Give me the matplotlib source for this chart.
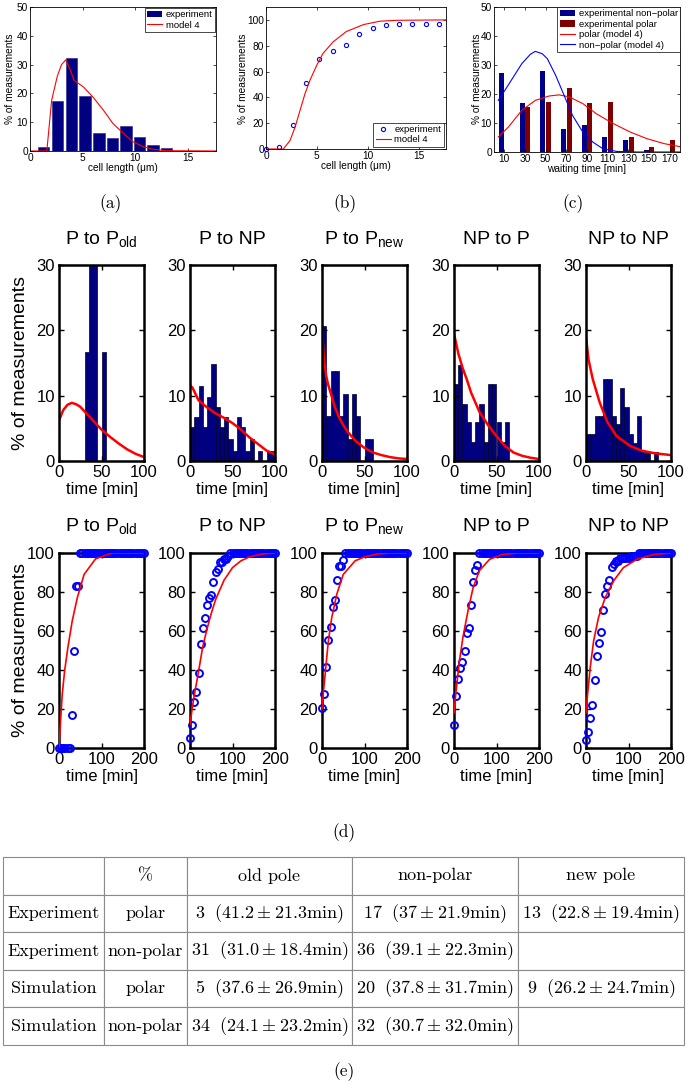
import matplotlib
matplotlib.use('Agg')
import matplotlib.pyplot as plt
from matplotlib.patches import Patch
from matplotlib.lines import Line2D

W, H = 688, 1090
plt.rcParams['font.family'] = ['Liberation Sans', 'DejaVu Sans']
plt.rcParams['mathtext.fontset'] = 'cm'
plt.rcParams['mathtext.rm'] = 'Liberation Sans'
plt.rcParams['mathtext.it'] = 'Liberation Sans:italic'
plt.rcParams['mathtext.bf'] = 'Liberation Sans:bold'
plt.rcParams['mathtext.sf'] = 'Liberation Sans'

# ---------------- data: (a) cell length histogram ----------------
len_centers = [1.3, 2.62, 3.94, 5.21, 6.54, 7.83, 9.11, 10.44, 11.71, 13.0]
len_hist = [1.3, 17.4, 32.3, 19.1, 6.1, 4.5, 8.6, 4.7, 2.1, 1.0]
len_model_x = [0, 1.6, 2.06, 2.6, 3.0, 3.4, 3.8, 4.2, 5.1, 6.0, 7.0, 7.9, 8.9, 9.8, 10.8, 11.7, 13.0, 17.7]
len_model_y = [0, 0, 17.6, 26, 30, 31.6, 28.5, 24.5, 22.2, 18.7, 14.1, 9.5, 6.1, 3.2, 1.5, 0.6, 0.1, 0]

# ---------------- data: (b) cumulative cell length ----------------
cum_len_x = [0, 1.31, 2.62, 3.94, 5.25, 6.56, 7.87, 9.19, 10.5, 11.8, 13.1, 14.4, 15.75, 17.06]
cum_len_y = [0, 1.3, 18.7, 51, 70, 76.3, 80.7, 89.3, 94, 96.4, 97.1, 97.1, 97.1, 97.1]
cum_model_x = [0, 1.7, 2.36, 2.86, 3.35, 3.84, 4.33, 5.0, 5.6, 6.6, 7.9, 9.6, 11.2, 12.9, 17.7]
cum_model_y = [0, 0, 6.5, 17, 30, 43, 53.4, 65, 74, 83, 91, 96.4, 99, 99.7, 100]

# ---------------- data: (c) waiting times ----------------
wait_groups = [10, 30, 50, 70, 90, 110, 130, 150, 170]
wait_nonpolar = [27.4, 16.9, 27.8, 8.0, 9.3, 5.2, 4.3, 0.7, 0]
wait_polar = [0, 15.6, 17.1, 22.0, 16.8, 17.2, 5.1, 1.7, 4.0]
polar_model_x = [4.1, 13.9, 27, 40, 53.2, 63, 72.8, 85.9, 99, 115.4, 131.7, 148, 164.5, 182]
polar_model_y = [5.2, 8.6, 14.4, 17.8, 19.3, 19.7, 19, 16.7, 13.2, 9.8, 6.9, 4.6, 2.9, 1.7]
nonpolar_model_x = [4.1, 10.6, 18.8, 27, 35.2, 40, 46.6, 51.6, 59.7, 67.9, 76, 85.9, 95.7, 105.5, 118.6, 138, 182]
nonpolar_model_y = [17.8, 21.3, 25.9, 30.5, 33.7, 34.7, 33.9, 32.2, 26.4, 19.5, 12.6, 6.9, 3.4, 1.1, 0.2, 0, 0]

# ---------------- data: (d) transitions ----------------
panel_titles = [r'P to P$_{\mathrm{old}}$', 'P to NP', r'P to P$_{\mathrm{new}}$', 'NP to P', 'NP to NP']
hist_left = [0, 5, 10, 15, 20, 25, 30, 35, 40, 45, 50, 55, 60, 65, 70, 75, 80, 85, 90, 95]
hist_p_old = [0, 0, 0, 0, 0, 0, 16.7, 33.3, 33.3, 0, 16.7, 0, 0, 0, 0, 0, 0, 0, 0, 0]
hist_p_np = [5.2, 6.8, 11.5, 5.2, 9.8, 14.8, 8.2, 5.2, 6.8, 3.3, 1.6, 6.8, 5.2, 1.6, 3.3, 0, 1.6, 0, 1.6, 1.6]
hist_p_new = [20.7, 6.9, 13.8, 13.8, 6.9, 10.3, 3.4, 10.3, 6.9, 0, 3.4, 3.4, 0, 0, 0, 0, 0, 0, 0, 0]
hist_np_p = [11.8, 14.7, 8.8, 5.9, 2.9, 5.9, 8.8, 2.9, 11.8, 11.8, 5.9, 2.9, 5.9, 0, 0, 0, 0, 0, 0, 0]
hist_np_np = [4.2, 4.2, 6.9, 6.9, 12.5, 12.5, 6.9, 5.6, 11.1, 8.3, 4.2, 2.8, 6.9, 1.4, 1.4, 0, 1.4, 0, 0, 0]

pdf_p_old_t = [0, 5, 10, 15, 20, 25, 30, 40, 50, 60, 70, 80, 90, 100]
pdf_p_old_v = [6.2, 7.8, 8.6, 8.9, 8.7, 8.3, 7.6, 6.2, 4.8, 3.7, 2.7, 1.8, 1.1, 0.6]
pdf_p_np_t = [0, 3, 10, 20, 30, 40, 50, 60, 70, 80, 90, 100]
pdf_p_np_v = [11.6, 11.2, 9.3, 8.2, 7.3, 6.6, 5.8, 4.8, 3.6, 2.6, 1.6, 1.0]
pdf_p_new_t = [0, 2, 5, 7, 10, 15, 20, 25, 30, 40, 50, 60, 70, 80, 90, 100]
pdf_p_new_v = [20.5, 16, 13, 11.8, 10.5, 8.3, 6.7, 5.5, 4.5, 3.0, 2.0, 1.3, 0.9, 0.6, 0.4, 0.3]
pdf_np_p_t = [0, 5, 10, 15, 20, 30, 40, 50, 60, 70, 80, 90, 100]
pdf_np_p_v = [19.5, 16.5, 14.3, 12.5, 10.5, 7.5, 5.5, 3.8, 2.3, 1.3, 0.8, 0.5, 0.3]
pdf_np_np_t = [0, 3, 8, 16, 25, 36, 52, 65, 80, 100]
pdf_np_np_v = [19, 15.5, 12.5, 9, 6, 3.8, 2.3, 1.6, 1.2, 0.9]

cdf_t = [0, 5, 10, 15, 20, 25, 30, 35, 40, 45, 50, 55, 60, 65, 70, 75, 80, 85, 90, 95, 100,
         105, 110, 115, 120, 125, 130, 135, 140, 145, 150, 155, 160, 165, 170, 175, 180, 185, 190, 195, 200]
cdf_p_old = [0, 0, 0, 0, 0, 0, 16.7, 50, 83.3, 83.3, 100, 100, 100, 100, 100, 100, 100, 100, 100, 100, 100,
             100, 100, 100, 100, 100, 100, 100, 100, 100, 100, 100, 100, 100, 100, 100, 100, 100, 100, 100, 100]
cdf_p_np = [5.2, 12, 23.5, 28.7, 38.5, 53.3, 61.5, 66.7, 73.5, 76.8, 78.4, 85.2, 90.4, 92, 95.3, 95.3, 96.9, 96.9, 98.5, 100, 100,
            100, 100, 100, 100, 100, 100, 100, 100, 100, 100, 100, 100, 100, 100, 100, 100, 100, 100, 100, 100]
cdf_p_new = [20.7, 27.6, 41.4, 55.2, 62.1, 72.4, 75.9, 86.2, 93.1, 93.1, 96.5, 100, 100, 100, 100, 100, 100, 100, 100, 100, 100,
             100, 100, 100, 100, 100, 100, 100, 100, 100, 100, 100, 100, 100, 100, 100, 100, 100, 100, 100, 100]
cdf_np_p = [11.8, 26.5, 35.3, 41.2, 44.1, 50, 58.8, 61.7, 73.5, 85.3, 91.2, 94.1, 100, 100, 100, 100, 100, 100, 100, 100, 100,
            100, 100, 100, 100, 100, 100, 100, 100, 100, 100, 100, 100, 100, 100, 100, 100, 100, 100, 100, 100]
cdf_np_np = [4.2, 8.4, 15.3, 22.2, 34.7, 47.2, 54.1, 59.7, 70.8, 79.1, 83.3, 86.1, 93.0, 94.4, 95.8, 95.8, 97.2, 97.2, 97.2, 97.2, 97.2,
             98.6, 98.6, 98.6, 98.6, 100, 100, 100, 100, 100, 100, 100, 100, 100, 100, 100, 100, 100, 100, 100, 100]

mcdf_p_old_t = [0, 4, 7.8, 13.4, 21, 31, 43, 59, 86, 125, 200]
mcdf_p_old_v = [0, 15, 28, 39.8, 51.7, 65, 77, 89, 97, 100, 100]
mcdf_p_np_t = [0, 5, 10, 20, 30, 40, 50, 60, 70, 80, 100, 120, 140, 170, 200]
mcdf_p_np_v = [12, 20, 27, 39, 52, 61, 69, 76, 81, 86, 92.5, 96, 98, 99.5, 100]
mcdf_p_new_t = [0, 3, 9, 15, 23, 35, 50, 78, 100, 130, 160, 200]
mcdf_p_new_v = [20, 28, 41.5, 55, 67, 79, 89, 96, 98, 99.5, 100, 100]
mcdf_np_p_t = [0, 5, 13, 21, 33, 45, 60, 84, 115, 150, 200]
mcdf_np_p_v = [18, 29.6, 45, 56.8, 70.4, 82.3, 91, 96.8, 99.3, 100, 100]
mcdf_np_np_t = [0, 2.4, 10, 18, 29.5, 45, 65, 88, 120, 160, 200]
mcdf_np_np_v = [18, 24.5, 41.5, 55, 67, 77, 85.7, 92.5, 96.8, 99.3, 100]

# ---------------- data: (e) table ----------------
tbl_cols = ['', '%', 'old pole', 'non-polar', 'new pole']
tbl_source = ['Experiment', 'Experiment', 'Simulation', 'Simulation']
tbl_type = ['polar', 'non-polar', 'polar', 'non-polar']
old_pct = ['3', '31', '5', '34']
old_mean = ['41.2', '31.0', '37.6', '24.1']
old_sd = ['21.3', '18.4', '26.9', '23.2']
np_pct = ['17', '36', '20', '32']
np_mean = ['37', '39.1', '37.8', '30.7']
np_sd = ['21.9', '22.3', '31.7', '32.0']
new_pct = ['13', '', '9', '']
new_mean = ['22.8', '', '26.2', '']
new_sd = ['19.4', '', '24.7', '']

NAVY = '#000080'

fig = plt.figure(figsize=(W / 100, H / 100), dpi=100)


def px_axes(l, t, r, b):
    return fig.add_axes([l / W, 1 - b / H, (r - l) / W, (b - t) / H])


def style_small(ax):
    ax.tick_params(direction='in', length=2.5, width=0.5, labelsize=7.3,
                   top=True, right=True, pad=1.5)
    for s in ax.spines.values():
        s.set_linewidth(0.6)


def style_big(ax):
    ax.tick_params(direction='in', length=3.5, width=1.0, labelsize=12,
                   top=True, right=True, pad=3)
    for s in ax.spines.values():
        s.set_linewidth(1.8)


leg_kw = dict(fontsize=6.8, fancybox=False, edgecolor='black', framealpha=1,
              borderpad=0.25, labelspacing=0.15, handletextpad=0.4, handlelength=1.6)

# (a)
ax = px_axes(30, 7, 216, 151)
ax.bar(len_centers, len_hist, width=1.1, color=NAVY, edgecolor='#20208a', linewidth=0.4)
ax.plot(len_model_x, len_model_y, color='red', lw=0.8)
ax.set_xlim(0, 17.7)
ax.set_ylim(0, 50)
ax.set_xticks([0, 5, 10, 15])
ax.set_yticks([0, 10, 20, 30, 40, 50])
ax.set_xlabel('cell length (\u03bcm)', fontsize=7.3, labelpad=0)
style_small(ax)
lg = ax.legend([Patch(facecolor=NAVY), Line2D([], [], color='red', lw=0.8)],
               ['experiment', 'model 4'], loc='upper right', borderaxespad=0.1, **leg_kw)
lg.get_frame().set_linewidth(0.5)
fig.text(10 / W, 1 - 79 / H, '% of measurements', rotation=90, fontsize=7.3, ha='center', va='center')

# (b)
ax = px_axes(266, 7, 446, 149)
ax.plot(cum_len_x, cum_len_y, 'o', mfc='none', mec='blue', mew=0.8, ms=3, clip_on=False,
        label='experiment')
ax.plot(cum_model_x, cum_model_y, color='red', lw=0.8, label='model 4')
ax.set_xlim(0, 17.7)
ax.set_ylim(0, 110)
ax.set_xticks([0, 5, 10, 15])
ax.set_yticks([0, 20, 40, 60, 80, 100])
ax.set_xlabel('cell length (\u03bcm)', fontsize=7.3, labelpad=0)
style_small(ax)
lg = ax.legend(loc='lower right', borderaxespad=0.25, **leg_kw)
lg.get_frame().set_linewidth(0.5)
fig.text(243 / W, 1 - 79 / H, '% of measurements', rotation=90, fontsize=7.3, ha='center', va='center')

# (c)
ax = px_axes(494, 7, 680, 152)
ax.bar([g - 2.8 for g in wait_groups], wait_nonpolar, width=4.8, color='#00008B')
ax.bar([g + 2.8 for g in wait_groups], wait_polar, width=4.8, color='#7F0000')
ax.plot(polar_model_x, polar_model_y, color='red', lw=0.8)
ax.plot(nonpolar_model_x, nonpolar_model_y, color='blue', lw=0.8)
ax.set_xlim(0, 180)
ax.set_ylim(0, 50)
ax.set_xticks(wait_groups)
ax.set_yticks([0, 10, 20, 30, 40, 50])
ax.set_xlabel('waiting time [min]', fontsize=7.3, labelpad=0)
style_small(ax)
lg = ax.legend([Patch(facecolor='#00008B'), Patch(facecolor='#7F0000'),
                Line2D([], [], color='red', lw=0.8), Line2D([], [], color='blue', lw=0.8)],
               ['experimental non\u2212polar', 'experimental polar', 'polar (model 4)', 'non\u2212polar (model 4)'],
               loc='upper right', borderaxespad=0.0, **leg_kw)
lg.get_frame().set_linewidth(0.5)
fig.text(477 / W, 1 - 79 / H, '% of measurements', rotation=90, fontsize=7.3, ha='center', va='center')

for lab, x in [('(a)', 111), ('(b)', 345), ('(c)', 573)]:
    fig.text(x / W, 1 - 204 / H, lab, fontfamily='cmr10', fontsize=12.5, ha='center', va='center')

# (d)
lefts = [59, 190, 322, 454, 586]
hists = [hist_p_old, hist_p_np, hist_p_new, hist_np_p, hist_np_np]
pdfs = [(pdf_p_old_t, pdf_p_old_v), (pdf_p_np_t, pdf_p_np_v), (pdf_p_new_t, pdf_p_new_v),
        (pdf_np_p_t, pdf_np_p_v), (pdf_np_np_t, pdf_np_np_v)]
cdfs = [cdf_p_old, cdf_p_np, cdf_p_new, cdf_np_p, cdf_np_np]
mcdfs = [(mcdf_p_old_t, mcdf_p_old_v), (mcdf_p_np_t, mcdf_p_np_v), (mcdf_p_new_t, mcdf_p_new_v),
         (mcdf_np_p_t, mcdf_np_p_v), (mcdf_np_np_t, mcdf_np_np_v)]

for i, l in enumerate(lefts):
    ax = px_axes(l, 265, l + 85, 461)
    ax.bar(hist_left, hists[i], width=5, align='edge', color=NAVY, edgecolor='#000030', linewidth=0.5)
    ax.plot(pdfs[i][0], pdfs[i][1], color='red', lw=1.8)
    ax.set_xlim(0, 100)
    ax.set_ylim(0, 30)
    ax.set_xticks([0, 50, 100])
    ax.set_yticks([0, 10, 20, 30])
    ax.set_xlabel('time [min]', fontsize=12, labelpad=1)
    ax.set_title(panel_titles[i], fontsize=14, pad=15, math_fontfamily='custom')
    style_big(ax)

    ax = px_axes(l, 553, l + 85, 748)
    ax.plot(cdf_t, cdfs[i], 'o', mfc='none', mec='blue', mew=1.4, ms=5, clip_on=False, zorder=3)
    ax.plot(mcdfs[i][0], mcdfs[i][1], color='red', lw=1.2, zorder=4)
    ax.set_xlim(0, 200)
    ax.set_ylim(0, 100)
    ax.set_xticks([0, 100, 200])
    ax.set_yticks([0, 20, 40, 60, 80, 100])
    ax.set_xlabel('time [min]', fontsize=12, labelpad=1)
    ax.set_title(panel_titles[i], fontsize=14, pad=16, math_fontfamily='custom')
    style_big(ax)

fig.text(21 / W, 1 - 363 / H, '% of measurements', rotation=90, fontsize=14, ha='center', va='center')
fig.text(21 / W, 1 - 650 / H, '% of measurements', rotation=90, fontsize=14, ha='center', va='center')
fig.text(344 / W, 1 - 833 / H, '(d)', fontfamily='cmr10', fontsize=12.5, ha='center', va='center')

# (e) table
cell_text = [tbl_cols]
for k in range(4):
    row = [tbl_source[k], tbl_type[k]]
    for pct, m, sd in [(old_pct, old_mean, old_sd), (np_pct, np_mean, np_sd), (new_pct, new_mean, new_sd)]:
        if pct[k]:
            row.append(r'$%s\ \ (%s\pm%s\mathrm{min})$' % (pct[k], m[k], sd[k]))
        else:
            row.append('')
    cell_text.append(row)

tab_ax = px_axes(3, 857, 684, 1045)
tab_ax.axis('off')
col_w = [101, 83, 165, 166, 166]
tbl = tab_ax.table(cellText=cell_text, colWidths=[c / sum(col_w) for c in col_w],
                   cellLoc='center', bbox=[0, 0, 1, 1])
tbl.auto_set_font_size(False)
for (r, c), cell in tbl.get_celld().items():
    cell.set_edgecolor('#8a8a8a')
    cell.set_linewidth(0.8)
    txt = cell.get_text()
    txt.set_fontsize(13)
    if '$' not in txt.get_text():
        txt.set_fontfamily('cmr10')

fig.text(344 / W, 1 - 1072 / H, '(e)', fontfamily='cmr10', fontsize=12.5, ha='center', va='center')

fig.savefig('out.png', dpi=100)
